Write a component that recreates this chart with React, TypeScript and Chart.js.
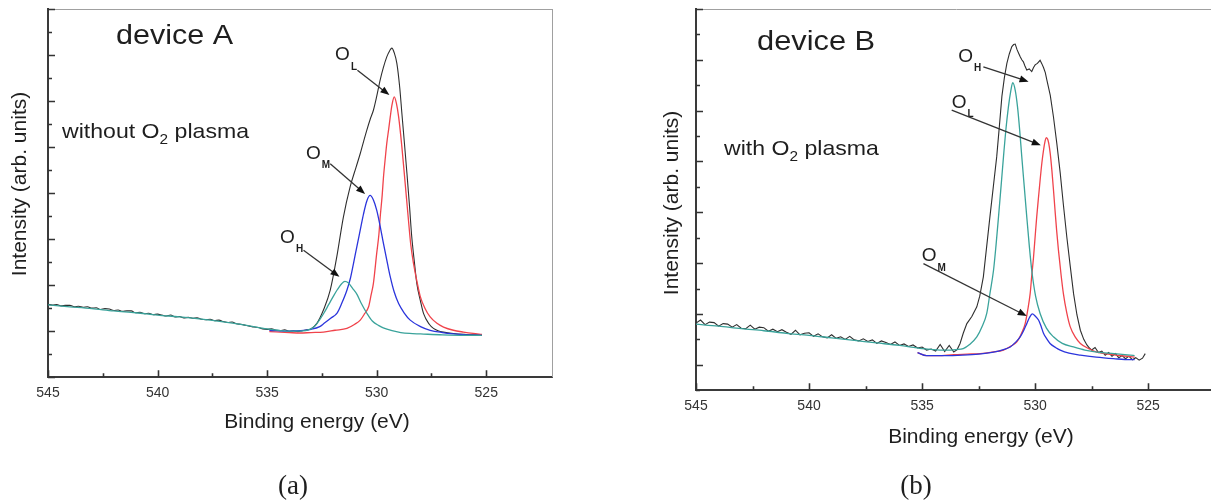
import React, { useEffect, useRef } from "react";
import { Chart, registerables } from "chart.js";
Chart.register(...registerables);

// ---------------- Panel A (device A, without O2 plasma) ----------------
const A_BLACK_X = [545.0, 544.8, 544.6, 544.4, 544.2, 544.0, 543.8, 543.6, 543.4, 543.2, 543.0, 542.8, 542.6, 542.4, 542.2, 542.0, 541.8, 541.6, 541.4, 541.2, 541.0, 540.8, 540.6, 540.4, 540.2, 540.0, 539.8, 539.6, 539.4, 539.2, 539.0, 538.8, 538.6, 538.4, 538.2, 538.0, 537.8, 537.6, 537.4, 537.2, 537.0, 536.8, 536.6, 536.4, 536.2, 536.0, 535.8, 535.6, 535.4, 535.2, 535.0, 534.8, 534.6, 534.4, 534.2, 534.0, 533.8, 533.6, 533.4, 533.2, 533.0, 532.73, 532.43, 532.12, 531.82, 531.52, 531.21, 530.95, 530.75, 530.6, 530.45, 530.3, 530.15, 530.0, 529.84, 529.7, 529.54, 529.4, 529.31, 529.2, 529.08, 528.95, 528.85, 528.72, 528.62, 528.5, 528.4, 528.28, 528.17, 528.0, 527.86, 527.6, 527.41, 527.2, 526.95, 526.5, 526.0, 525.6, 525.2];
const A_BLACK_Y = [1.58, 1.57, 1.58, 1.55, 1.56, 1.56, 1.53, 1.54, 1.52, 1.53, 1.50, 1.51, 1.47, 1.49, 1.48, 1.45, 1.46, 1.43, 1.44, 1.44, 1.40, 1.41, 1.38, 1.39, 1.36, 1.37, 1.35, 1.33, 1.35, 1.31, 1.32, 1.29, 1.30, 1.28, 1.29, 1.26, 1.25, 1.26, 1.23, 1.24, 1.21, 1.19, 1.20, 1.16, 1.15, 1.13, 1.11, 1.09, 1.08, 1.05, 1.04, 1.05, 1.02, 1.01, 1.03, 1.00, 1.01, 0.99, 1.01, 1.03, 1.05, 1.17, 1.46, 1.89, 2.62, 3.48, 4.14, 4.55, 4.86, 5.12, 5.37, 5.6, 5.8, 6.1, 6.46, 6.72, 6.96, 7.1, 7.15, 7.05, 6.82, 6.3, 5.73, 5.0, 4.43, 3.7, 3.05, 2.5, 2.04, 1.65, 1.38, 1.15, 1.06, 1.01, 0.98, 0.95, 0.93, 0.92, 0.92];

const A_TEAL_X = [545, 544, 543, 542, 541, 540, 539, 538, 537, 536, 535, 534.5, 534, 533.5, 533, 532.8, 532.6, 532.4, 532.2, 532.0, 531.8, 531.6, 531.45, 531.3, 531.1, 530.9, 530.7, 530.45, 530.2, 529.9, 529.7, 529.3, 528.9, 528.5, 528, 527, 526, 525.2];
const A_TEAL_Y = [1.57, 1.53, 1.49, 1.44, 1.40, 1.35, 1.31, 1.26, 1.20, 1.13, 1.05, 1.02, 1.0, 1.0, 1.05, 1.12, 1.25, 1.40, 1.57, 1.74, 1.90, 2.03, 2.08, 2.05, 1.93, 1.80, 1.60, 1.39, 1.22, 1.12, 1.07, 1.01, 0.97, 0.95, 0.94, 0.92, 0.91, 0.91];

const A_BLUE_X = [534.9, 534, 533.5, 533, 532.6, 532.4, 532.1, 531.8, 531.6, 531.36, 531.2, 531.06, 530.9, 530.75, 530.6, 530.45, 530.3, 530.15, 530.0, 529.85, 529.69, 529.5, 529.38, 529.2, 529.0, 528.75, 528.47, 528, 527.56, 527, 526.5, 525.9, 525.2];
const A_BLUE_Y = [1.02, 1.0, 1.01, 1.04, 1.10, 1.17, 1.28, 1.40, 1.6, 1.89, 2.15, 2.47, 2.85, 3.2, 3.55, 3.83, 3.95, 3.85, 3.63, 3.3, 2.9, 2.45, 2.18, 1.85, 1.6, 1.40, 1.24, 1.1, 1.02, 0.97, 0.94, 0.92, 0.91];

const A_RED_X = [534.9, 534, 533.5, 533, 532.43, 531.9, 531.36, 531.0, 530.75, 530.55, 530.37, 530.25, 530.15, 530.0, 529.9, 529.84, 529.75, 529.69, 529.6, 529.54, 529.45, 529.38, 529.3, 529.2, 529.1, 529.0, 528.85, 528.7, 528.55, 528.45, 528.32, 528.15, 528.01, 527.8, 527.56, 527.25, 526.95, 526.5, 526.04, 525.6, 525.2];
const A_RED_Y = [0.99, 0.97, 0.96, 0.97, 0.98, 1.02, 1.06, 1.15, 1.24, 1.38, 1.53, 1.8, 2.04, 2.69, 3.1, 3.48, 3.95, 4.35, 4.8, 5.08, 5.4, 5.66, 5.92, 6.09, 5.95, 5.66, 5.0, 4.21, 3.41, 2.9, 2.47, 2.05, 1.75, 1.5, 1.31, 1.17, 1.09, 1.02, 0.98, 0.95, 0.93];

// ---------------- Panel B (device B, with O2 plasma) ----------------
const B_BLACK_X = [545.0, 544.8, 544.6, 544.4, 544.2, 544.0, 543.8, 543.6, 543.4, 543.2, 543.0, 542.8, 542.6, 542.4, 542.2, 542.0, 541.8, 541.6, 541.4, 541.2, 541.0, 540.8, 540.6, 540.4, 540.2, 540.0, 539.8, 539.6, 539.4, 539.2, 539.0, 538.8, 538.6, 538.4, 538.2, 538.0, 537.8, 537.6, 537.4, 537.2, 537.0, 536.8, 536.6, 536.4, 536.2, 536.0, 535.8, 535.6, 535.4, 535.2, 535.0, 534.8, 534.6, 534.4, 534.2, 534.0, 533.8, 533.6, 533.45, 533.32, 533.18, 533.02, 532.8, 532.58, 532.45, 532.29, 532.15, 532.0, 531.85, 531.7, 531.58, 531.47, 531.36, 531.25, 531.14, 531.03, 530.95, 530.88, 530.8, 530.72, 530.66, 530.59, 530.52, 530.45, 530.37, 530.26, 530.15, 530.07, 530.0, 529.9, 529.78, 529.7, 529.63, 529.55, 529.48, 529.33, 529.19, 529.04, 528.89, 528.75, 528.6, 528.45, 528.3, 528.15, 528.0, 527.85, 527.71, 527.6, 527.5, 527.35, 527.2, 527.05, 526.9, 526.75, 526.6, 526.45, 526.3, 526.15, 526.0, 525.85, 525.7, 525.55, 525.4, 525.25, 525.13];
const B_BLACK_Y = [0.82, 0.88, 0.79, 0.84, 0.83, 0.76, 0.81, 0.80, 0.74, 0.79, 0.72, 0.71, 0.78, 0.70, 0.74, 0.73, 0.66, 0.70, 0.65, 0.69, 0.64, 0.60, 0.68, 0.59, 0.62, 0.63, 0.56, 0.61, 0.55, 0.53, 0.59, 0.52, 0.55, 0.50, 0.56, 0.49, 0.47, 0.51, 0.46, 0.49, 0.42, 0.47, 0.44, 0.40, 0.45, 0.38, 0.41, 0.36, 0.39, 0.33, 0.35, 0.29, 0.31, 0.27, 0.40, 0.26, 0.38, 0.25, 0.30, 0.42, 0.62, 0.81, 0.95, 1.14, 1.35, 1.73, 2.3, 2.91, 3.5, 4.09, 4.7, 5.28, 5.65, 5.93, 6.12, 6.26, 6.3, 6.31, 6.2, 6.12, 6.06, 6.0, 5.96, 5.88, 5.8, 5.82, 5.77, 5.85, 5.9, 5.93, 5.99, 5.92, 5.85, 5.75, 5.6, 5.3, 4.88, 4.35, 3.77, 3.15, 2.52, 1.95, 1.4, 0.98, 0.68, 0.5, 0.39, 0.33, 0.29, 0.34, 0.24, 0.27, 0.19, 0.24, 0.17, 0.22, 0.14, 0.18, 0.12, 0.17, 0.10, 0.14, 0.09, 0.13, 0.22];

const B_TEAL_X = [545, 544, 543, 542, 541, 540, 539, 538, 537, 536, 535, 534.5, 534, 533.5, 533.18, 532.9, 532.58, 532.35, 532.14, 532.0, 531.84, 531.73, 531.62, 531.5, 531.4, 531.3, 531.18, 531.08, 530.99, 530.88, 530.78, 530.68, 530.59, 530.48, 530.37, 530.26, 530.15, 529.98, 529.78, 529.5, 529.19, 528.8, 528.3, 527.8, 527.27, 526.5, 525.8, 525.6];
const B_TEAL_Y = [0.80, 0.76, 0.71, 0.67, 0.62, 0.58, 0.53, 0.48, 0.43, 0.38, 0.32, 0.30, 0.29, 0.30, 0.32, 0.40, 0.55, 0.75, 1.01, 1.4, 1.86, 2.35, 2.91, 3.55, 4.09, 4.6, 5.08, 5.38, 5.55, 5.4, 5.08, 4.6, 4.09, 3.5, 2.91, 2.35, 1.86, 1.35, 1.01, 0.72, 0.55, 0.42, 0.35, 0.29, 0.25, 0.22, 0.19, 0.18];

const B_RED_X = [535.2, 534.8, 534.3, 533.6, 533.0, 532.43, 531.9, 531.4, 531.1, 530.81, 530.6, 530.44, 530.33, 530.22, 530.15, 530.07, 530.0, 529.93, 529.85, 529.78, 529.7, 529.63, 529.56, 529.51, 529.45, 529.4, 529.33, 529.26, 529.19, 529.12, 529.05, 528.97, 528.86, 528.75, 528.6, 528.45, 528.2, 528.0, 527.6, 527.27, 526.6, 525.8, 525.6];
const B_RED_Y = [0.24, 0.18, 0.18, 0.20, 0.21, 0.22, 0.25, 0.29, 0.36, 0.45, 0.62, 0.81, 1.07, 1.40, 1.75, 2.12, 2.52, 2.91, 3.3, 3.63, 3.98, 4.22, 4.4, 4.47, 4.44, 4.36, 4.15, 3.83, 3.45, 3.04, 2.65, 2.26, 1.8, 1.40, 1.02, 0.75, 0.53, 0.42, 0.31, 0.25, 0.2, 0.16, 0.15];

const B_BLUE_X = [535.2, 534.8, 534.0, 533.2, 532.5, 531.84, 531.4, 531.1, 530.85, 530.66, 530.5, 530.37, 530.25, 530.12, 530.0, 529.85, 529.73, 529.63, 529.5, 529.34, 529.1, 528.89, 528.5, 528.0, 527.3, 526.53, 525.8, 525.6];
const B_BLUE_Y = [0.24, 0.18, 0.18, 0.19, 0.21, 0.25, 0.30, 0.35, 0.45, 0.55, 0.68, 0.81, 0.93, 1.0, 0.96, 0.88, 0.75, 0.62, 0.52, 0.42, 0.34, 0.29, 0.23, 0.19, 0.15, 0.12, 0.10, 0.10];

// ---------------- axes ----------------
const X_MIN = 522;
const X_MAX = 545;
const X_STEP = 2.5;
const A_Y_MIN = 0;
const A_Y_MAX = 8;
const B_Y_MIN = -0.5;
const B_Y_MAX = 7;
const Y_STEP = 0.5;

const X_TITLE = "Binding energy (eV)";
const Y_TITLE = "Intensity (arb. units)";

const COL_BLACK = "#2e2e2e";
const COL_RED = "#f0434b";
const COL_BLUE = "#2b35dc";
const COL_TEAL = "#3aa39b";
const SANS = "'Liberation Sans', Arial, Helvetica, sans-serif";
const SERIF = "'Liberation Serif', 'Times New Roman', serif";

type Part = { t: string; sub?: boolean };
type TextItem = {
  parts: Part[];
  x: number;
  y: number;
  size: number;
  align: "left" | "center";
  baseline: "alphabetic" | "middle";
  rotate?: boolean;
  serif?: boolean;
  sx?: number;
};
type Ann = { sub: string; lx: number; ly: number; x0: number; y0: number; x1: number; y1: number };

function zip(xs: number[], ys: number[]) {
  return xs.map((x, i) => ({ x, y: ys[i] }));
}

function drawRich(ctx: CanvasRenderingContext2D, it: TextItem) {
  const fam = it.serif ? SERIF : SANS;
  const subSize = Math.round(it.size * 0.66);
  const widths = it.parts.map((p) => {
    ctx.font = `${p.sub ? subSize : it.size}px ${fam}`;
    return ctx.measureText(p.t).width;
  });
  const total = widths.reduce((a, b) => a + b, 0);
  ctx.save();
  ctx.translate(it.x, it.y);
  if (it.rotate) ctx.rotate(-Math.PI / 2);
  ctx.scale(it.sx ?? 1, 1);
  ctx.fillStyle = "#1e1e1e";
  ctx.textAlign = "left";
  ctx.textBaseline = it.baseline;
  let cx = it.align === "center" ? -total / 2 : 0;
  it.parts.forEach((p, i) => {
    ctx.font = `${p.sub ? subSize : it.size}px ${fam}`;
    ctx.fillText(p.t, cx, p.sub ? it.size * 0.3 : 0);
    cx += widths[i];
  });
  ctx.restore();
}

function isMult(v: number, m: number) {
  return Math.abs(v / m - Math.round(v / m)) < 1e-6;
}

function makePlugin(texts: TextItem[], anns: Ann[]) {
  return {
    id: "decor",
    afterDraw(chart: any) {
      const { ctx, chartArea: ca, scales } = chart;
      const xs = scales.x;
      const ys = scales.y;
      ctx.save();
      // top and right frame
      ctx.strokeStyle = "#a0a0a0";
      ctx.lineWidth = 1;
      ctx.beginPath();
      ctx.moveTo(ca.left, ca.top + 0.5);
      ctx.lineTo(ca.right + 1, ca.top + 0.5);
      ctx.moveTo(ca.right + 0.5, ca.top);
      ctx.lineTo(ca.right + 0.5, ca.bottom);
      ctx.stroke();
      // inward ticks
      ctx.strokeStyle = "#333";
      ctx.lineWidth = 1.6;
      ctx.beginPath();
      for (const t of xs.ticks) {
        if (!isMult(t.value, X_STEP)) continue;
        const px = Math.round(xs.getPixelForValue(t.value)) + 0.5;
        const len = isMult(t.value, 5) ? 7 : 4;
        ctx.moveTo(px, ca.bottom);
        ctx.lineTo(px, ca.bottom - len);
      }
      for (const t of ys.ticks) {
        if (!isMult(t.value, Y_STEP)) continue;
        const py = Math.round(ys.getPixelForValue(t.value)) + 0.5;
        const len = isMult(t.value, 1) ? 7 : 4;
        ctx.moveTo(ca.left, py);
        ctx.lineTo(ca.left + len, py);
      }
      ctx.stroke();
      // free texts
      texts.forEach((it) => drawRich(ctx, it));
      // peak annotations
      anns.forEach((a) => {
        const lx = xs.getPixelForValue(a.lx);
        const ly = ys.getPixelForValue(a.ly);
        ctx.fillStyle = "#1e1e1e";
        ctx.font = `19px ${SANS}`;
        ctx.textAlign = "center";
        ctx.textBaseline = "middle";
        ctx.fillText("O", lx, ly);
        const ow = ctx.measureText("O").width;
        ctx.font = `bold 10px ${SANS}`;
        ctx.textAlign = "left";
        ctx.fillText(a.sub, lx + ow / 2 + 1, ly + 12);
        const x0 = xs.getPixelForValue(a.x0);
        const y0 = ys.getPixelForValue(a.y0);
        const x1 = xs.getPixelForValue(a.x1);
        const y1 = ys.getPixelForValue(a.y1);
        const ang = Math.atan2(y1 - y0, x1 - x0);
        const hl = 9;
        const hw = 3.5;
        ctx.strokeStyle = "#333";
        ctx.lineWidth = 1.3;
        ctx.beginPath();
        ctx.moveTo(x0, y0);
        ctx.lineTo(x1 - Math.cos(ang) * hl * 0.8, y1 - Math.sin(ang) * hl * 0.8);
        ctx.stroke();
        ctx.fillStyle = "#111";
        ctx.beginPath();
        ctx.moveTo(x1, y1);
        ctx.lineTo(x1 - Math.cos(ang) * hl - Math.sin(ang) * hw, y1 - Math.sin(ang) * hl + Math.cos(ang) * hw);
        ctx.lineTo(x1 - Math.cos(ang) * hl + Math.sin(ang) * hw, y1 - Math.sin(ang) * hl - Math.cos(ang) * hw);
        ctx.closePath();
        ctx.fill();
      });
      ctx.restore();
    },
  };
}

type PanelCfg = {
  left: number;
  width: number;
  height: number;
  pad: { left: number; right: number; top: number; bottom: number };
  tickPad: number;
  yMin: number;
  yMax: number;
  series: { xs: number[]; ys: number[]; color: string; width: number; smooth: boolean }[];
  texts: TextItem[];
  anns: Ann[];
};

const PANEL_A: PanelCfg = {
  left: 0,
  width: 600,
  height: 504,
  pad: { left: 48, right: 48, top: 9, bottom: 94 },
  tickPad: 8,
  yMin: A_Y_MIN,
  yMax: A_Y_MAX,
  series: [
    { xs: A_TEAL_X, ys: A_TEAL_Y, color: COL_TEAL, width: 1.3, smooth: true },
    { xs: A_BLUE_X, ys: A_BLUE_Y, color: COL_BLUE, width: 1.3, smooth: true },
    { xs: A_RED_X, ys: A_RED_Y, color: COL_RED, width: 1.3, smooth: true },
    { xs: A_BLACK_X, ys: A_BLACK_Y, color: COL_BLACK, width: 1.1, smooth: true },
  ],
  texts: [
    { parts: [{ t: "device A" }], x: 116, y: 44, size: 28, align: "left", baseline: "alphabetic", sx: 1.09 },
    { parts: [{ t: "without O" }, { t: "2", sub: true }, { t: " plasma" }], x: 62, y: 138, size: 21, align: "left", baseline: "alphabetic", sx: 1.1 },
    { parts: [{ t: Y_TITLE }], x: 20, y: 184, size: 21, align: "center", baseline: "middle", rotate: true },
    { parts: [{ t: X_TITLE }], x: 317, y: 422, size: 21, align: "center", baseline: "middle" },
    { parts: [{ t: "(a)" }], x: 293, y: 487, size: 27, align: "center", baseline: "middle", serif: true },
  ],
  anns: [
    { sub: "L", lx: 531.56, ly: 7.0, x0: 530.88, y0: 6.67, x1: 529.42, y1: 6.13 },
    { sub: "M", lx: 532.89, ly: 4.86, x0: 532.12, y0: 4.64, x1: 530.53, y1: 3.98 },
    { sub: "H", lx: 534.07, ly: 3.04, x0: 533.34, y0: 2.76, x1: 531.7, y1: 2.18 },
  ],
};

const PANEL_B: PanelCfg = {
  left: 640,
  width: 600,
  height: 504,
  pad: { left: 56, right: 24, top: 9, bottom: 82 },
  tickPad: 7.5,
  yMin: B_Y_MIN,
  yMax: B_Y_MAX,
  series: [
    { xs: B_TEAL_X, ys: B_TEAL_Y, color: COL_TEAL, width: 1.3, smooth: true },
    { xs: B_BLUE_X, ys: B_BLUE_Y, color: COL_BLUE, width: 1.3, smooth: true },
    { xs: B_RED_X, ys: B_RED_Y, color: COL_RED, width: 1.3, smooth: true },
    { xs: B_BLACK_X, ys: B_BLACK_Y, color: COL_BLACK, width: 1.1, smooth: false },
  ],
  texts: [
    { parts: [{ t: "device B" }], x: 117, y: 50, size: 28, align: "left", baseline: "alphabetic", sx: 1.1 },
    { parts: [{ t: "with O" }, { t: "2", sub: true }, { t: " plasma" }], x: 84, y: 155, size: 21, align: "left", baseline: "alphabetic", sx: 1.1 },
    { parts: [{ t: Y_TITLE }], x: 32, y: 203, size: 21, align: "center", baseline: "middle", rotate: true },
    { parts: [{ t: X_TITLE }], x: 341, y: 437, size: 21, align: "center", baseline: "middle" },
    { parts: [{ t: "(b)" }], x: 276, y: 487, size: 27, align: "center", baseline: "middle", serif: true },
  ],
  anns: [
    { sub: "H", lx: 533.07, ly: 6.07, x0: 532.29, y0: 5.86, x1: 530.29, y1: 5.57 },
    { sub: "L", lx: 533.36, ly: 5.16, x0: 533.69, y0: 5.01, x1: 529.75, y1: 4.32 },
    { sub: "M", lx: 534.69, ly: 2.14, x0: 534.94, y0: 1.99, x1: 530.37, y1: 0.96 },
  ],
};

function Panel({ cfg }: { cfg: PanelCfg }) {
  const ref = useRef<HTMLCanvasElement>(null);
  useEffect(() => {
    const canvas = ref.current;
    if (!canvas) return;
    const chart = new Chart(canvas, {
      type: "line",
      data: {
        datasets: cfg.series.map((s) => ({
          data: zip(s.xs, s.ys),
          borderColor: s.color,
          borderWidth: s.width,
          pointRadius: 0,
          fill: false,
          cubicInterpolationMode: s.smooth ? "monotone" : "default",
          tension: 0,
        })),
      },
      options: {
        animation: false,
        responsive: false,
        devicePixelRatio: 1,
        events: [],
        layout: { padding: cfg.pad },
        plugins: { legend: { display: false }, tooltip: { enabled: false } },
        scales: {
          x: {
            type: "linear",
            min: X_MIN,
            max: X_MAX,
            reverse: true,
            grid: { display: false, drawTicks: false },
            border: { display: true, color: "#3a3a3a", width: 2 },
            ticks: {
              stepSize: X_STEP,
              maxTicksLimit: 1000,
              autoSkip: false,
              maxRotation: 0,
              padding: cfg.tickPad,
              color: "#333",
              font: { family: SANS, size: 14 },
              callback: (v: any) => (isMult(Number(v), 5) ? String(v) : ""),
            },
          },
          y: {
            type: "linear",
            min: cfg.yMin,
            max: cfg.yMax,
            grid: { display: false, drawTicks: false },
            border: { display: true, color: "#3a3a3a", width: 2 },
            ticks: { display: false, stepSize: Y_STEP, maxTicksLimit: 1000 },
          },
        },
      } as any,
      plugins: [makePlugin(cfg.texts, cfg.anns)],
    });
    return () => chart.destroy();
  }, [cfg]);
  return (
    <canvas
      ref={ref}
      width={cfg.width}
      height={cfg.height}
      style={{ position: "absolute", left: cfg.left, top: 0, width: cfg.width, height: cfg.height }}
    />
  );
}

export default function App() {
  return (
    <div
      style={{
        position: "fixed",
        left: 0,
        top: 0,
        width: 1211,
        height: 504,
        overflow: "hidden",
        background: "#ffffff",
      }}
    >
      <Panel cfg={PANEL_A} />
      <Panel cfg={PANEL_B} />
    </div>
  );
}
